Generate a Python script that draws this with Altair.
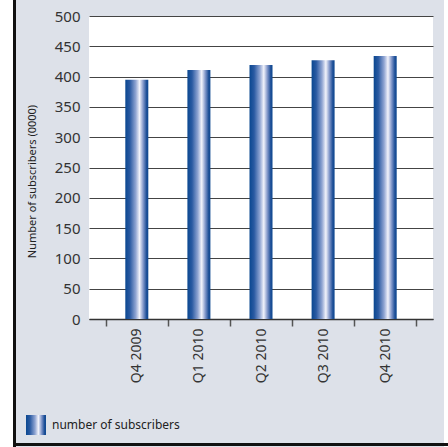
import altair as alt
import pandas as pd

quarters = ["Q4 2009", "Q1 2010", "Q2 2010", "Q3 2010", "Q4 2010"]
subscribers = [395, 411, 419, 427, 434]
series_name = "number of subscribers"
y_ticks = list(range(0, 501, 50))

df = pd.DataFrame({"quarter": quarters, "value": subscribers, "series": [series_name] * len(quarters)})

W, H = 344, 303
FONT = "Noto Sans"

grad = alt.Gradient(
    gradient="linear",
    x1=0, x2=1, y1=0, y2=0,
    stops=[
        alt.GradientStop(color="#0a4790", offset=0),
        alt.GradientStop(color="#2a5aa2", offset=0.2),
        alt.GradientStop(color="#8fa4d2", offset=0.45),
        alt.GradientStop(color="#f2f3fb", offset=0.62),
        alt.GradientStop(color="#8096c9", offset=0.78),
        alt.GradientStop(color="#1f5098", offset=0.92),
        alt.GradientStop(color="#0c4790", offset=1),
    ],
)

x_enc = alt.X(
    "quarter:N", sort=quarters, title=None,
    scale=alt.Scale(paddingInner=0, paddingOuter=0.27),
    axis=alt.Axis(
        labelAngle=270, labelAlign="right", labelBaseline="middle",
        labelFont=FONT, labelFontSize=14, labelColor="#333333", labelPadding=2,
        tickBand="extent", tickSize=7, tickColor="#555555", tickWidth=1.5,
        domainColor="#333333", domainWidth=1.5,
        grid=False, gridOpacity=0, gridWidth=0,
    ),
)
y_enc = alt.Y(
    "value:Q", title="Number of subscribers (0000)",
    scale=alt.Scale(domain=[0, 500], nice=False),
    axis=alt.Axis(
        values=y_ticks, grid=True, gridColor="#444444", gridWidth=1,
        domain=False, ticks=False, tickSize=0, labelPadding=9,
        labelFont=FONT, labelFontSize=15, labelColor="#333333",
        titleFont=FONT, titleFontSize=11, titleFontWeight="normal", titleColor="#222222",
        titleAngle=270, titleX=-57, titleY=165, titleBaseline="middle", titleAlign="center",
    ),
)

bars = alt.Chart(df).mark_bar(size=23, fill=grad, strokeWidth=0).encode(
    x=x_enc,
    y=y_enc,
    stroke=alt.Stroke(
        "series:N",
        scale=alt.Scale(range=["#2c5aa0"]),
        legend=alt.Legend(
            title=None, orient="none", legendX=-63, legendY=399,
            symbolType="square", symbolSize=400, symbolOpacity=1,
            symbolStrokeWidth=0,
            labelFont=FONT, labelFontSize=12, labelColor="#222222", labelOffset=6,
            padding=0,
        ),
    ),
)

white_left = alt.Chart(df).mark_rule(color="white", strokeWidth=13).encode(
    x=alt.value(-82.5), y=alt.value(-20), y2=alt.value(H + 150)
)
white_right = alt.Chart(df).mark_rule(color="white", strokeWidth=4).encode(
    x=alt.value(W + 13), y=alt.value(-20), y2=alt.value(H + 150)
)
black_left = alt.Chart(df).mark_rule(color="#111111", strokeWidth=2.5).encode(
    x=alt.value(-74.5), y=alt.value(-20), y2=alt.value(H + 128)
)
black_bottom = alt.Chart(df).mark_rule(color="#111111", strokeWidth=3).encode(
    x=alt.value(-76), x2=alt.value(W + 20), y=alt.value(H + 125.5)
)

chart = alt.layer(
    bars, white_left, white_right, black_left, black_bottom
).properties(
    width=W, height=H,
    background="#dde1e9",
    padding={"left": 89, "top": 16, "right": 15, "bottom": 128},
    autosize=alt.AutoSizeParams(type="none"),
).configure_view(fill="white", stroke=None)

chart.save("out.html", embed_options={"renderer": "svg", "actions": False})
